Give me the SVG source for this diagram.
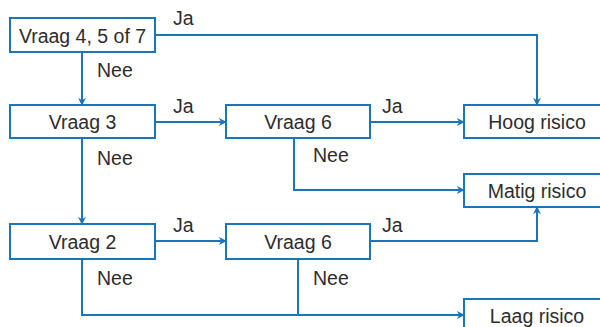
<svg xmlns="http://www.w3.org/2000/svg" width="600" height="327" viewBox="0 0 600 327">
<style>
.box{fill:#fff;stroke:#1b75bb;stroke-width:2}
.ln{fill:none;stroke:#1b75bb;stroke-width:2;marker-end:url(#ah)}
.ln2{fill:none;stroke:#1b75bb;stroke-width:2}
text{font-family:"Liberation Sans",Arial,sans-serif;fill:#2d2d2d;font-size:19.5px}
.c{text-anchor:middle}
</style>
<defs>
<marker id="ah" viewBox="0 0 10 10" refX="9" refY="5" markerWidth="4" markerHeight="4" orient="auto" markerUnits="strokeWidth">
<path d="M0,0 L10,5 L0,10 L3,5 Z" fill="#1b75bb"/>
</marker>
</defs>
<rect width="600" height="327" fill="#fff"/>
<g id="connectors">
<path class="ln" d="M155,35 H537 V105"/>
<path class="ln" d="M82,52 V105"/>
<path class="ln" d="M155,122 H226"/>
<path class="ln" d="M370,122 H464"/>
<path class="ln" d="M294,138 V190 H464"/>
<path class="ln" d="M82,138 V224"/>
<path class="ln" d="M155,241 H226"/>
<path class="ln" d="M370,241 H537 V207"/>
<path class="ln2" d="M298,259 V315"/>
<path class="ln" d="M82,259 V315 H464"/>
<text x="173" y="25">Ja</text>
<text x="97" y="77">Nee</text>
<text x="173" y="113">Ja</text>
<text x="382" y="113">Ja</text>
<text x="97" y="165">Nee</text>
<text x="313" y="162">Nee</text>
<text x="173" y="232">Ja</text>
<text x="382" y="232">Ja</text>
<text x="97" y="285">Nee</text>
<text x="313" y="285">Nee</text>
</g>
<g id="q457"><rect class="box" x="10" y="18" width="145" height="34"/><text class="c" x="82.5" y="42.5">Vraag 4, 5 of 7</text></g>
<g id="q3"><rect class="box" x="10" y="105" width="145" height="33"/><text class="c" x="82.5" y="128.5">Vraag 3</text></g>
<g id="q6a"><rect class="box" x="226" y="105" width="144" height="33"/><text class="c" x="298" y="128.5">Vraag 6</text></g>
<g id="hoog"><rect class="box" x="464" y="105" width="146" height="33"/><text class="c" x="537" y="128.5">Hoog risico</text></g>
<g id="matig"><rect class="box" x="464" y="174" width="146" height="33"/><text class="c" x="537" y="197.5">Matig risico</text></g>
<g id="q2"><rect class="box" x="10" y="224" width="145" height="35"/><text class="c" x="82.5" y="248.5">Vraag 2</text></g>
<g id="q6b"><rect class="box" x="226" y="224" width="144" height="35"/><text class="c" x="298" y="248.5">Vraag 6</text></g>
<g id="laag"><rect class="box" x="464" y="299" width="146" height="40"/><text class="c" x="537" y="323">Laag risico</text></g>
</svg>
